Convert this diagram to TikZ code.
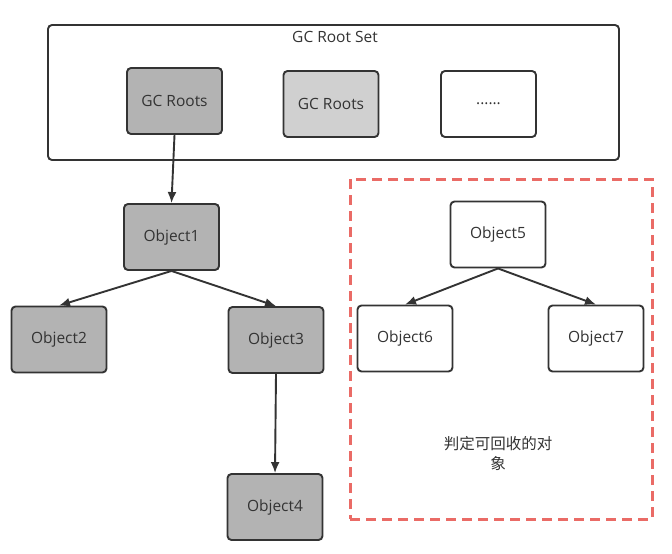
\documentclass[tikz,border=0pt]{standalone}
\usepackage{fontspec}
\setmainfont{Open Sans}
\newfontfamily\cjk{Noto Sans CJK SC}
\usetikzlibrary{arrows.meta}
\definecolor{txt}{HTML}{333333}
\definecolor{darkfill}{HTML}{B3B3B3}
\definecolor{lightfill}{HTML}{D0D0D0}
\definecolor{redline}{HTML}{EA6B66}
\tikzset{
  box/.style={draw=txt, line width=1.9pt, rounded corners=4pt, minimum width=95pt, minimum height=66pt, inner sep=0pt, text=txt, font=\fontsize{15.5}{18}\selectfont},
  dark/.style={box, fill=darkfill},
  light/.style={box, fill=lightfill},
  plain/.style={box, fill=white},
  conn/.style={draw=txt, line width=1.9pt, -{Latex[length=11pt,width=9pt]}},
}
\begin{document}
\begin{tikzpicture}[x=1pt,y=-1pt]
\useasboundingbox (0,0) rectangle (672,554);
\node[draw=txt, line width=1.9pt, rounded corners=4pt, minimum width=571pt, minimum height=135pt, inner sep=0pt] (rootset) at (333.5,92.5) {};
\node[text=txt, font=\fontsize{15.5}{18}\selectfont, inner sep=0pt] (rootsetlabel) at (335,37) {GC Root Set};
\node[dark] (gcr1) at (174.5,101) {GC Roots};
\node[light] (gcr2) at (331,104) {GC Roots};
\node[plain] (dots) at (488.5,104) {......};
\node[dark] (obj1) at (171.5,237) {Object1};
\node[dark] (obj2) at (59,339.5) {Object2};
\node[dark] (obj3) at (276,340) {Object3};
\node[dark] (obj4) at (275,507) {Object4};
\node[draw=redline, line width=3pt, dash pattern=on 10pt off 6pt, minimum width=302pt, minimum height=340pt, inner sep=0pt] (garbage) at (501,349) {};
\node[plain] (obj5) at (498,234.5) {Object5};
\node[plain] (obj6) at (405,338.5) {Object6};
\node[plain] (obj7) at (596,338.5) {Object7};
\node[text=txt, align=center, font=\cjk\fontsize{15.5}{20}\selectfont, inner sep=0pt] (glabel) at (498,453) {判定可回收的对\\象};
\draw[conn] (gcr1.south) -- (obj1.north);
\draw[conn] (obj1.south) -- (obj2.north);
\draw[conn] (obj1.south) -- (obj3.north);
\draw[conn] (obj3.south) -- (obj4.north);
\draw[conn] (obj5.south) -- (obj6.north);
\draw[conn] (obj5.south) -- (obj7.north);
\end{tikzpicture}
\end{document}
